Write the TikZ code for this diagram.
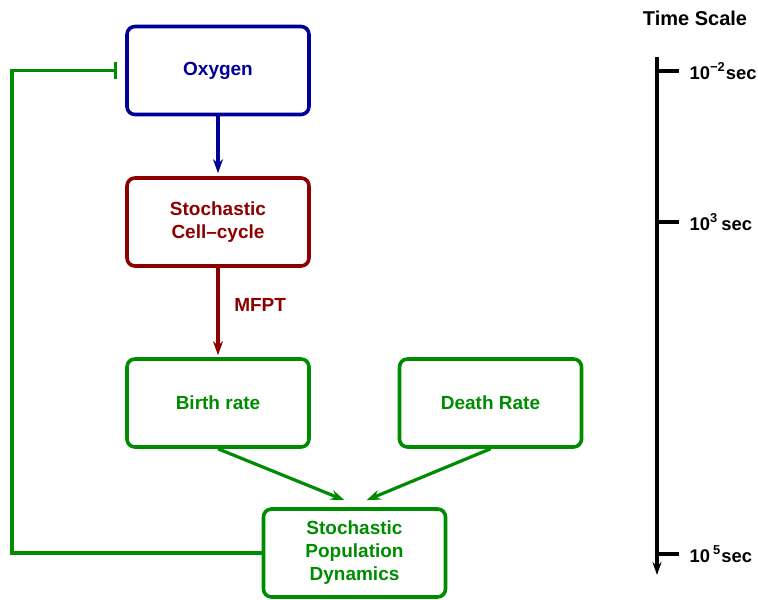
\documentclass[tikz,border=0pt]{standalone}
\usepackage{fontspec}
\setmainfont{Liberation Sans}
\usetikzlibrary{calc,arrows.meta}
\definecolor{oxyblue}{RGB}{0,0,150}
\definecolor{cellred}{RGB}{140,0,0}
\definecolor{popgreen}{RGB}{0,140,0}

\begin{document}
\begin{tikzpicture}[x=0.5pt,y=-0.5pt,
    font=\fontsize{9.5}{11.5}\selectfont\bfseries,
    box/.style={draw,line width=1.8pt,rounded corners=4pt,minimum width=91pt,minimum height=44pt,align=center},
    link/.style={line width=1.6pt,-{Stealth[length=7pt,width=5pt]}},
    axis/.style={line width=2pt}]
    \useasboundingbox (0,0) rectangle (758,599);
    \begin{scope}[shift={(0,0)}]
      \node[box,oxyblue] (oxy) at (218,70.5) {Oxygen};
      \node[box,cellred] (cell) at (218,222) {Stochastic\\Cell--cycle};
      \node[box,popgreen] (birth) at (218,403) {Birth rate};
      \node[box,popgreen] (death) at (490.5,403) {Death Rate};
      \node[box,popgreen] (pop) at (354.5,553) {Stochastic\\Population\\Dynamics};
      \coordinate (fbleft) at (12,0);
      \coordinate (fbend) at ($(oxy.west)+(-8,0)$);
      \draw[link,oxyblue,shorten >=1.5pt](oxy)--(cell);
      \draw[link,cellred,shorten >=1pt](cell)--(birth)node[pos=.42,right,xshift=4pt](mfpt){MFPT};
      \draw[link,popgreen](birth.south)--($(pop.north)+(-10,-7)$);
      \draw[link,popgreen](death.south)--($(pop.north)+(12,-7)$);
      \draw[popgreen,line width=1.6pt,-{Bar[width=8.5pt]}](pop.west)--(pop.west -| fbleft)|-(fbend);
    \end{scope}
    \begin{scope}[shift={(0,0)}]
      \coordinate (ttop) at (657,57);
      \coordinate (tbot) at (657,575);
      \node[font=\fontsize{10}{12}\selectfont\bfseries] (tscale) at (695,18) {Time Scale};
      \draw[axis,-{Stealth[length=6.5pt,width=4.5pt]}](ttop)--(tbot);
      \foreach \y/\lab/\nm in {71/{10\textsuperscript{−2}sec}/t1,222/{10\textsuperscript{3}\,sec}/t2,554/{10\,\textsuperscript{5}sec}/t3}
        \draw[axis](657,\y)--++(22,0)node[right,xshift=1pt,font=\fontsize{9.2}{11}\selectfont\bfseries](\nm){\lab};
    \end{scope}
  \end{tikzpicture}
\end{document}
